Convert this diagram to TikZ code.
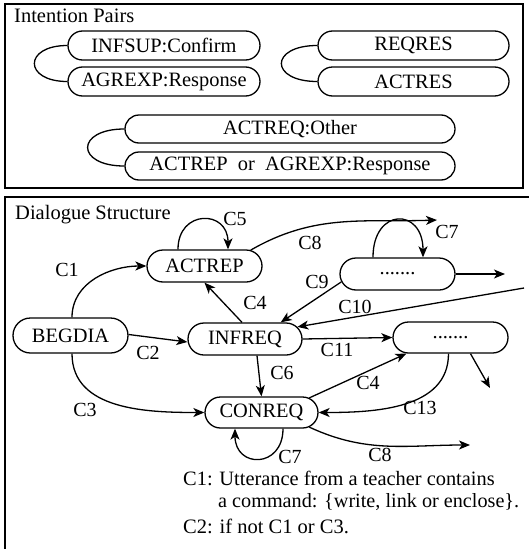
\documentclass[tikz,border=0pt]{standalone}
\usepackage{fontspec}
\setmainfont{Liberation Serif}
\usetikzlibrary{shapes.misc,arrows.meta}
\begin{document}
\begin{tikzpicture}[x=1pt,y=1pt,
  pill/.style={rounded rectangle, draw, line width=1.3pt, inner sep=0pt, font=\fontsize{20.4}{24}\selectfont},
  ppill/.style={pill, minimum height=29pt},
  dpill/.style={pill, minimum width=115pt, minimum height=32pt},
  arr/.style={line width=1.3pt, -{Stealth[length=11pt,width=9pt,inset=3pt]}},
  con/.style={line width=1.3pt},
  lbl/.style={font=\fontsize{20}{24}\selectfont, inner sep=0pt},
  note/.style={font=\fontsize{20.5}{24}\selectfont, inner sep=0pt, anchor=base west},
  frame/.style={draw, line width=1.5pt},
]
\useasboundingbox (0,0) rectangle (529,-549);
% frames
\draw[frame] (5,-4) rectangle (523,-188);
\draw[frame] (5,-197) rectangle (545,-570);
\node[lbl, font=\fontsize{20.5}{24}\selectfont, anchor=base west] (hip) at (14,-22.7) {Intention Pairs};
\node[lbl, font=\fontsize{20.5}{24}\selectfont, anchor=base west] (hds) at (15,-219) {Dialogue Structure};

% intention pairs
\node[ppill, minimum width=192pt] (infsup) at (164,-45.5) {INFSUP:Confirm};
\node[ppill, minimum width=192pt] (agrexp) at (164,-81.5) {AGREXP:Response};
\node[ppill, minimum width=191pt] (reqres) at (413.5,-45.5) {REQRES};
\node[ppill, minimum width=191pt] (actres) at (413.5,-81.5) {ACTRES};
\node[ppill, minimum width=330pt, minimum height=28pt] (actreqo) at (290,-129) {ACTREQ:Other};
\node[ppill, minimum width=330pt, minimum height=28pt] (actrepr) at (290,-166) {ACTREP\ \ or\ \ AGREXP:Response};
\draw[con] (infsup.west) .. controls +(-44,0) and +(-44,0) .. (agrexp.west);
\draw[con] (reqres.west) .. controls +(-48,0) and +(-48,0) .. (actres.west);
\draw[con] (actreqo.west) .. controls +(-49,0) and +(-49,0) .. (actrepr.west);

% dialogue structure
\node[dpill] (actrep) at (204.5,-266) {ACTREP};
\node[dpill, minimum height=35pt] (begdia) at (70.5,-335.5) {BEGDIA};
\node[dpill, minimum width=114pt] (infreq) at (245,-339) {INFREQ};
\node[dpill] (dotsa) at (397.5,-274) {.......};
\node[dpill, minimum height=31pt] (dotsb) at (450.5,-337.5) {.......};
\node[dpill, minimum width=113pt, minimum height=31pt] (conreq) at (261.5,-412.5) {CONREQ};

\coordinate (e8a) at (437,-220);
\coordinate (ea) at (505,-274);
\coordinate (e10) at (524,-288);
\coordinate (eb) at (490,-388);
\coordinate (e8b) at (470,-445);

\draw[arr] ([xshift=1.5pt]begdia.north) to[out=90,in=180] (actrep.west);
\draw[arr] ([xshift=-26.5pt]actrep.north) .. controls +(0,40) and +(0,40) .. ([xshift=23.5pt]actrep.north);
\draw[arr] (actrep.19) to[out=30,in=182] (e8a);
\draw[arr] ([yshift=1pt]begdia.east) -- ([yshift=-3pt]infreq.west);
\draw[arr] ([xshift=1.5pt]begdia.south) to[out=-90,in=180] (conreq.west);
\draw[arr] ([xshift=-3pt]infreq.north) -- (actrep.south);
\draw[arr] ([xshift=12pt]infreq.south) -- (conreq.north);
\draw[arr] (infreq.east) -- (dotsb.west);
\draw[arr] (e10) -- (infreq.13);
\draw[arr] (dotsa.188) -- (infreq.25);
\draw[arr] ([xshift=-24.5pt]dotsa.north) .. controls +(0,50) and +(0,50) .. ([xshift=25.5pt]dotsa.north);
\draw[arr] (dotsa.east) -- (ea);
\draw[arr] (conreq.17) -- (dotsb.200);
\draw[arr] ([xshift=-2pt]dotsb.south) to[out=-90,in=0] (conreq.east);
\draw[arr] ([xshift=20pt]dotsb.south) -- (eb);
\draw[arr] (conreq.-17) to[out=-25,in=180] (e8b);
\draw[arr] ([xshift=21.5pt]conreq.south) .. controls +(0,-40) and +(0,-40) .. ([xshift=-26.5pt]conreq.south);

% labels
\node[lbl] (c1) at (67,-270) {C1};
\node[lbl] (c5) at (235,-219) {C5};
\node[lbl] (c8a) at (310,-243) {C8};
\node[lbl] (c7a) at (447,-232) {C7};
\node[lbl] (c9) at (317,-282) {C9};
\node[lbl] (c4a) at (255,-303) {C4};
\node[lbl] (c10) at (355,-307) {C10};
\node[lbl] (c2) at (148,-353) {C2};
\node[lbl] (c11) at (337,-350) {C11};
\node[lbl] (c6) at (282,-373) {C6};
\node[lbl] (c4b) at (368,-383) {C4};
\node[lbl] (c3) at (85,-410) {C3};
\node[lbl] (c13) at (420,-408) {C13};
\node[lbl] (c7b) at (290,-457) {C7};
\node[lbl] (c8b) at (380,-455) {C8};

\node[note, font=\fontsize{20.4}{24}\selectfont] (t1) at (183,-485) {C1: Utterance from a teacher contains};
\node[note, font=\fontsize{20.2}{24}\selectfont] (t2) at (218,-507) {a command: \{write, link or enclose\}.};
\node[note] (t3) at (183,-533) {C2: if not C1 or C3.};
\end{tikzpicture}
\end{document}
